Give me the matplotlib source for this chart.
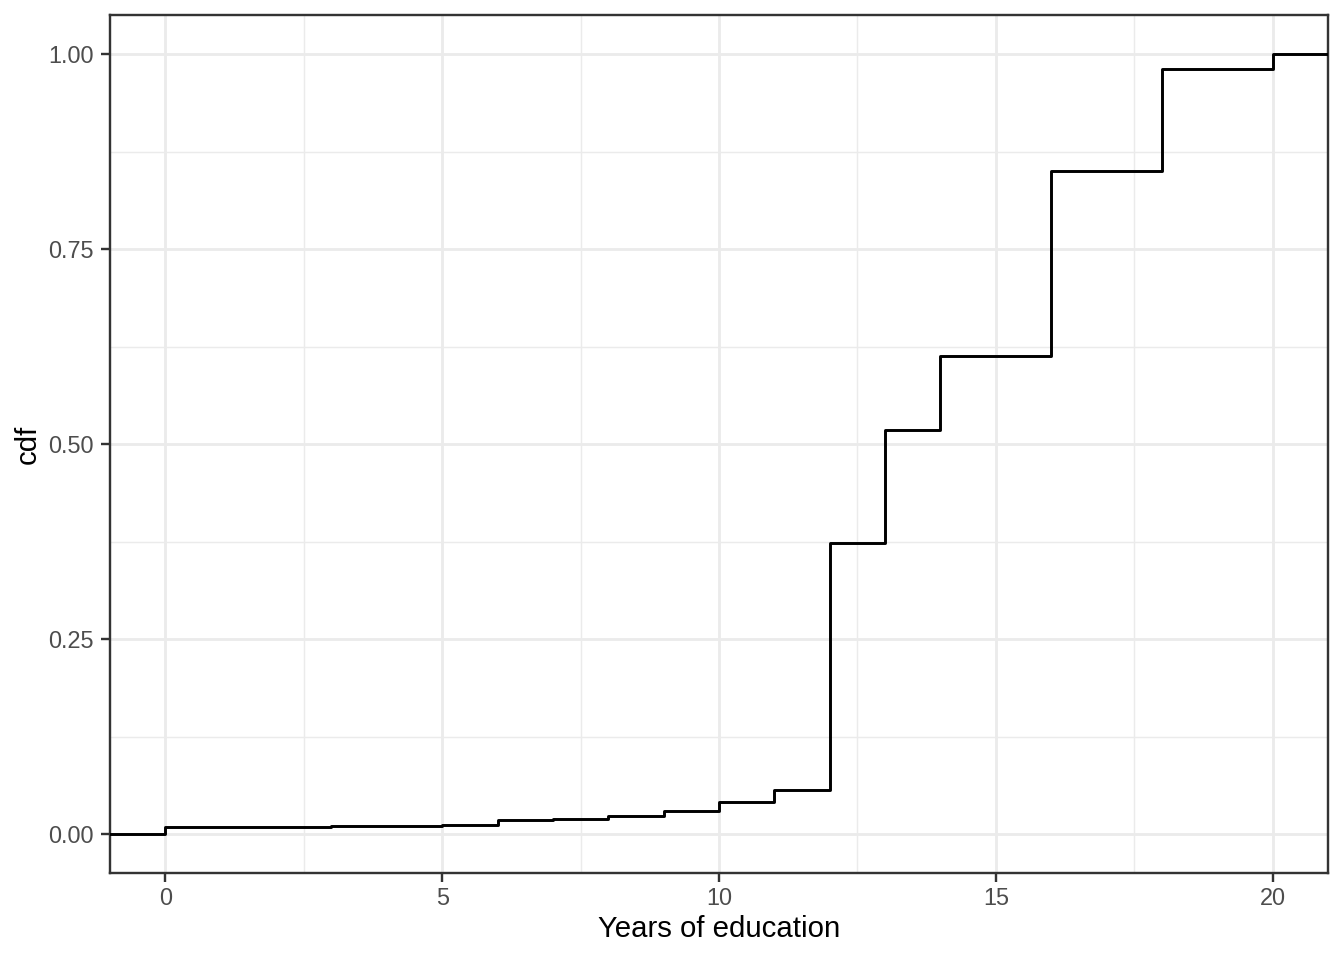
import matplotlib
matplotlib.use("Agg")
import matplotlib.pyplot as plt
import numpy as np

# ECDF of years of education
years = [0, 1, 2, 3, 4, 5, 6, 7, 8, 9, 10, 11, 12, 13, 14, 16, 18, 20]
cdf = [0.0086, 0.0090, 0.0094, 0.0098, 0.0104, 0.0115, 0.0175, 0.0190,
       0.0230, 0.0290, 0.0405, 0.0560, 0.3726, 0.5175, 0.6130, 0.8500,
       0.9810, 1.0000]

x_ticks = [0, 5, 10, 15, 20]
y_ticks = [0.0, 0.25, 0.5, 0.75, 1.0]
y_labels = ["0.00", "0.25", "0.50", "0.75", "1.00"]

plt.rcParams['font.family'] = ['Liberation Sans', 'DejaVu Sans']

fig = plt.figure(figsize=(7, 5), dpi=192)
ax = fig.add_axes([110 / 1344, 1 - 873 / 960, 1218 / 1344, 858 / 960])

# pad with -inf / inf like ggplot's stat_ecdf
xlo, xhi = -1, 21
xs = np.r_[xlo, years, xhi]
ys = np.r_[0.0, cdf, 1.0]
ax.step(xs, ys, where='post', color='black', linewidth=1.1, zorder=3)

ax.set_xlim(xlo, xhi)
ax.set_ylim(-0.05, 1.05)

ax.set_xticks(x_ticks)
ax.set_yticks(y_ticks)
ax.set_yticklabels(y_labels)
ax.set_xticks(np.arange(2.5, 21, 5), minor=True)
ax.set_yticks(np.arange(0.125, 1.0, 0.25), minor=True)

ax.grid(which='major', color='#ebebeb', linewidth=1.07)
ax.grid(which='minor', color='#ebebeb', linewidth=0.53)
ax.set_axisbelow(True)

for s in ax.spines.values():
    s.set_color('#333333')
    s.set_linewidth(0.9)

ax.tick_params(which='major', length=3.5, width=0.9, color='#333333',
               labelsize=8.8, labelcolor='#4d4d4d', pad=2.5)
ax.tick_params(axis='x', which='major', pad=1.8)
ax.tick_params(which='minor', length=0)

ax.set_xlabel("Years of education", fontsize=11, labelpad=2)
ax.set_ylabel("cdf", fontsize=11, labelpad=2.5)

fig.savefig("out.png", dpi=192, facecolor='white')
